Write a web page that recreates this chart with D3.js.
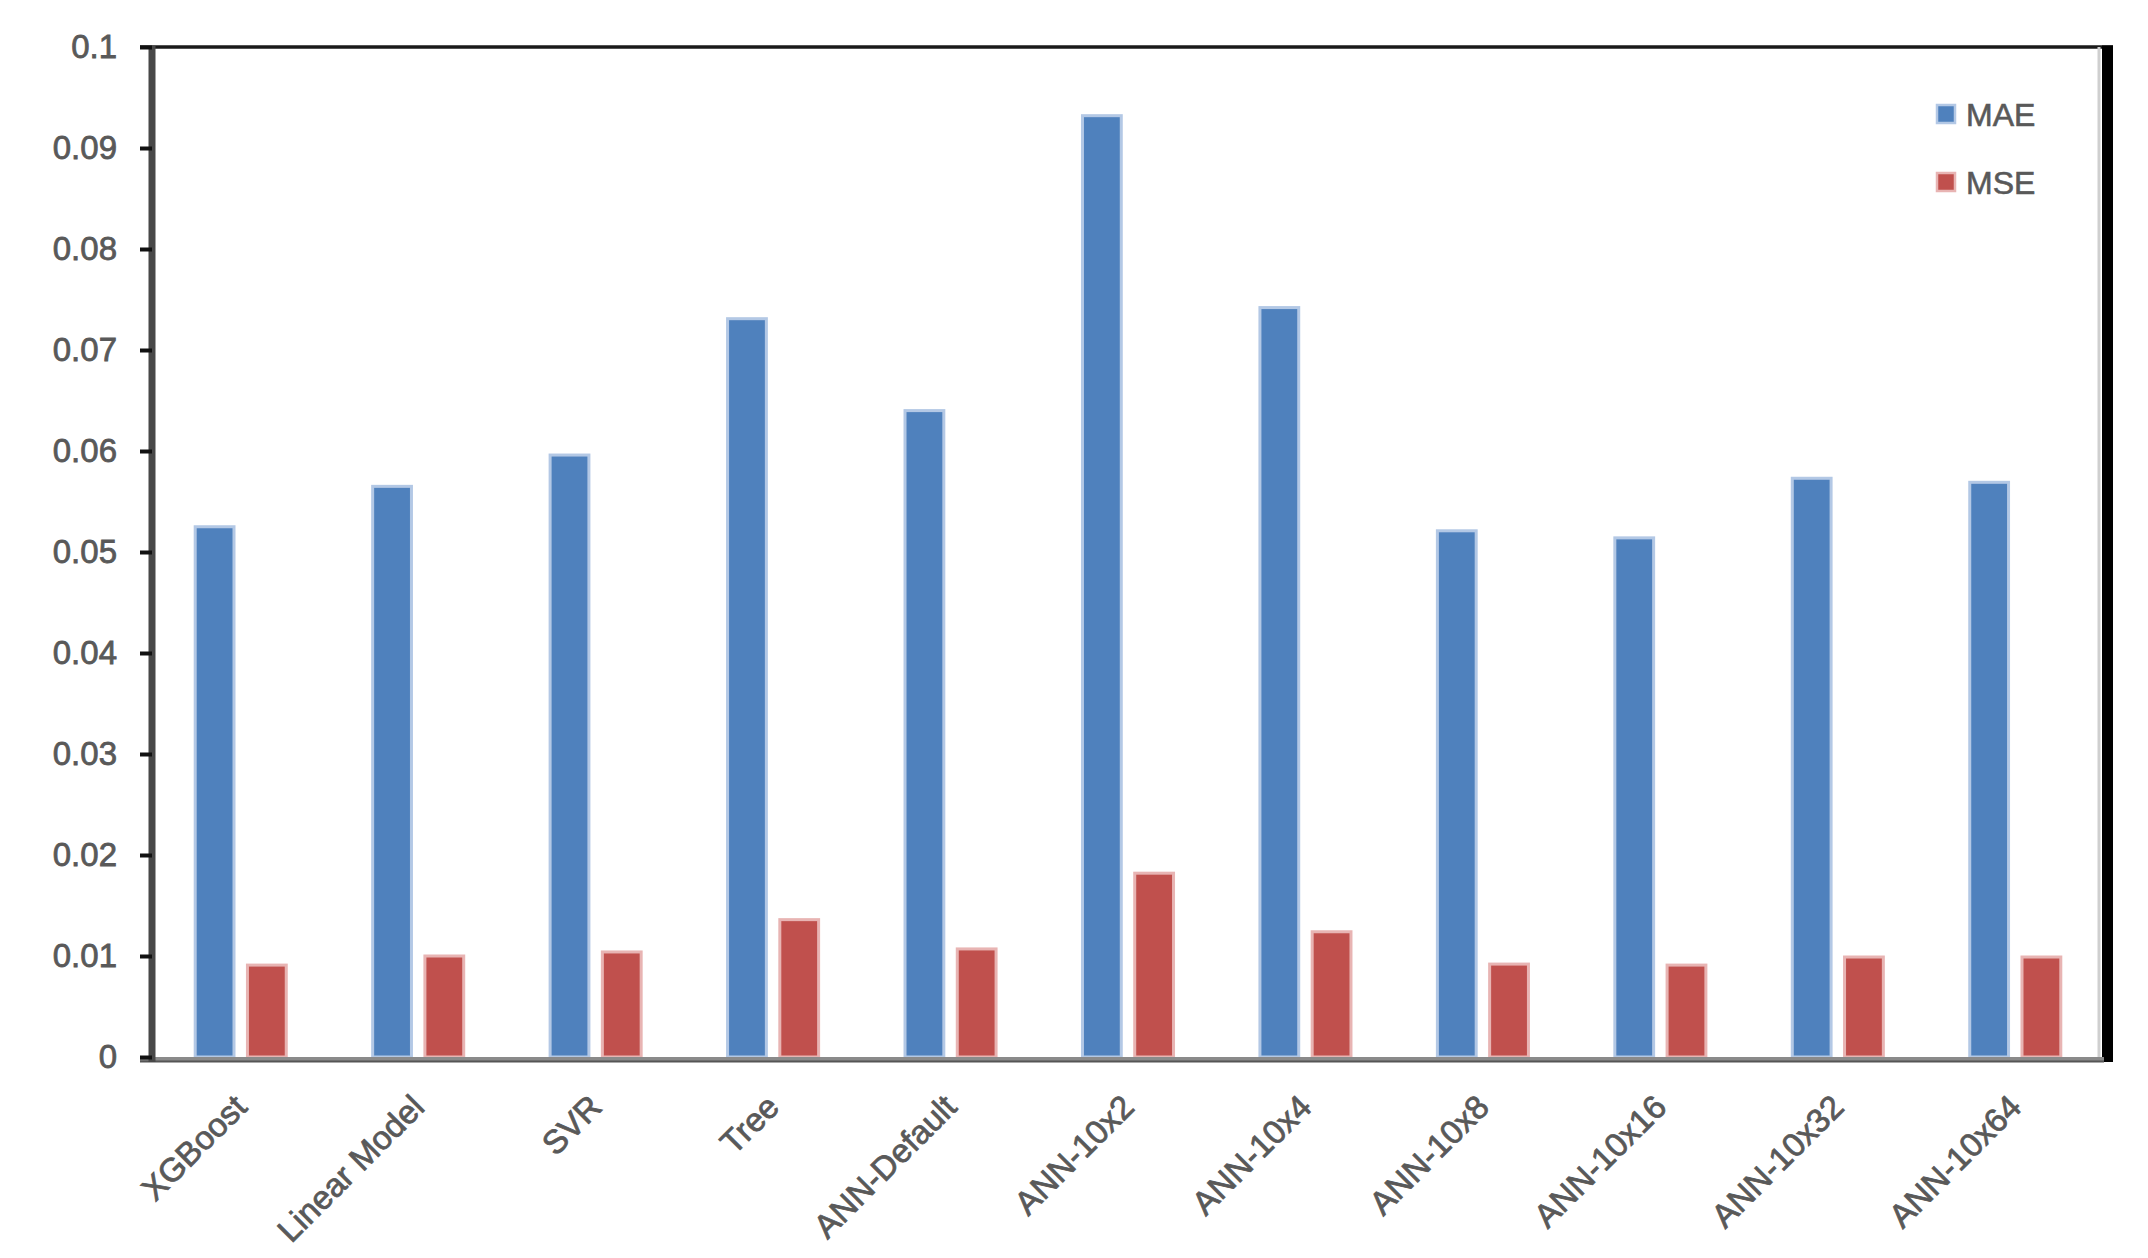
<!DOCTYPE html>
<html>
<head>
<meta charset="utf-8">
<script src="https://cdn.jsdelivr.net/npm/d3@7"></script>
<style>
  html, body { margin: 0; padding: 0; background: #fff; }
  #chart text { font-family: "Liberation Sans", Arial, sans-serif; }
</style>
</head>
<body>
<div id="chart"></div>
<script>
// data
const categories = ["XGBoost", "Linear Model", "SVR", "Tree", "ANN-Default", "ANN-10x2",
  "ANN-10x4", "ANN-10x8", "ANN-10x16", "ANN-10x32", "ANN-10x64"]
const seriesNames = ["MAE", "MSE"]
const maeValues = [0.0525, 0.0565, 0.0596, 0.0731, 0.0640, 0.0932, 0.0742, 0.0521, 0.0514, 0.0573, 0.0569]
const mseValues = [0.0091, 0.0100, 0.0104, 0.0136, 0.0107, 0.0182, 0.0124, 0.0092, 0.0091, 0.0099, 0.0099]
const yTickValues = [0, 0.01, 0.02, 0.03, 0.04, 0.05, 0.06, 0.07, 0.08, 0.09, 0.1]
const yTickLabels = ["0", "0.01", "0.02", "0.03", "0.04", "0.05", "0.06", "0.07", "0.08", "0.09", "0.1"]

// layout
const width = 2148
const height = 1258
const plotLeft = 152, plotRight = 2104, plotTop = 47, plotBottom = 1057
const colors = { MAE: "#4F81BD", MSE: "#C0504D" }
const edges = { MAE: "#b3c8e5", MSE: "#e8b4b3" }
const textColor = "#595959"

const rows = categories.map((c, i) => ({ category: c, MAE: maeValues[i], MSE: mseValues[i] }))

const svg = d3.select("#chart").append("svg")
  .attr("width", width)
  .attr("height", height)

const x0 = d3.scaleBand()
  .domain(categories)
  .range([plotLeft, plotRight])
  .paddingInner(0.47)
  .paddingOuter(0.235)

const x1 = d3.scaleBand()
  .domain(seriesNames)
  .range([0, x0.bandwidth()])
  .paddingInner(0.2)

const y = d3.scaleLinear()
  .domain([0, 0.1])
  .range([plotBottom, plotTop])

// bars
const groups = svg.append("g")
  .selectAll("g")
  .data(rows)
  .join("g")
  .attr("transform", d => `translate(${x0(d.category)},0)`)

groups.selectAll("rect")
  .data(d => seriesNames.map(s => ({ key: s, value: d[s] })))
  .join("rect")
  .attr("x", d => x1(d.key) + 1.5)
  .attr("width", x1.bandwidth() - 3)
  .attr("y", d => y(d.value))
  .attr("height", d => y(0) - y(d.value))
  .attr("fill", d => colors[d.key])
  .attr("stroke", d => edges[d.key])
  .attr("stroke-width", 3)

// frame: top and right borders
svg.append("line")
  .attr("x1", 140).attr("x2", 2113)
  .attr("y1", plotTop).attr("y2", plotTop)
  .attr("stroke", "#1a1a1a").attr("stroke-width", 3.5)
svg.append("line")
  .attr("x1", 2099).attr("x2", 2099)
  .attr("y1", plotTop).attr("y2", plotBottom + 4)
  .attr("stroke", "#cfcfcf").attr("stroke-width", 3)
svg.append("line")
  .attr("x1", 2107.5).attr("x2", 2107.5)
  .attr("y1", plotTop - 1.5).attr("y2", plotBottom + 5)
  .attr("stroke", "#000").attr("stroke-width", 11)

// x axis
const xAxis = svg.append("g")
  .attr("transform", `translate(0,${plotBottom})`)
  .call(d3.axisBottom(x0).tickSize(0).tickSizeOuter(0))

xAxis.select(".domain").remove()
xAxis.append("line")
  .attr("x1", 140).attr("x2", 2104)
  .attr("y1", 2).attr("y2", 2)
  .attr("stroke", "#8a8a8a").attr("stroke-width", 4)
xAxis.append("line")
  .attr("x1", 140).attr("x2", 2104)
  .attr("y1", 4.5).attr("y2", 4.5)
  .attr("stroke", "#555").attr("stroke-width", 2)

xAxis.selectAll(".tick text")
  .attr("x", 0).attr("y", 0).attr("dy", 0)
  .attr("text-anchor", "end")
  .attr("transform", "translate(8,52) rotate(-45)")
  .attr("font-size", 33)
  .attr("fill", textColor)
  .attr("stroke", textColor)
  .attr("stroke-width", 0.8)

// y axis
const yAxis = svg.append("g")
  .attr("transform", `translate(${plotLeft},0)`)
  .call(d3.axisLeft(y)
    .tickValues(yTickValues)
    .tickFormat((d, i) => yTickLabels[i])
    .tickSize(12)
    .tickSizeOuter(0)
    .tickPadding(23))

yAxis.select(".domain")
  .attr("stroke", "#484848")
  .attr("stroke-width", 7)
  .attr("d", `M0,${plotTop - 1}V${plotBottom + 5}`)

yAxis.selectAll(".tick line")
  .attr("stroke", "#111")
  .attr("stroke-width", 4)

yAxis.selectAll(".tick text")
  .attr("font-size", 33)
  .attr("fill", textColor)
  .attr("stroke", textColor)
  .attr("stroke-width", 0.8)

// legend
const legend = svg.append("g")
  .selectAll("g")
  .data(seriesNames)
  .join("g")
  .attr("transform", (d, i) => `translate(1936,${104 + i * 68})`)

legend.append("rect")
  .attr("x", 1).attr("y", 1)
  .attr("width", 18).attr("height", 18)
  .attr("fill", d => colors[d])
  .attr("stroke", d => edges[d])
  .attr("stroke-width", 2.5)

legend.append("text")
  .attr("x", 30)
  .attr("y", 10)
  .attr("dy", "0.36em")
  .attr("font-size", 32)
  .attr("fill", textColor)
  .attr("stroke", textColor)
  .attr("stroke-width", 0.6)
  .text(d => d)
</script>
</body>
</html>
